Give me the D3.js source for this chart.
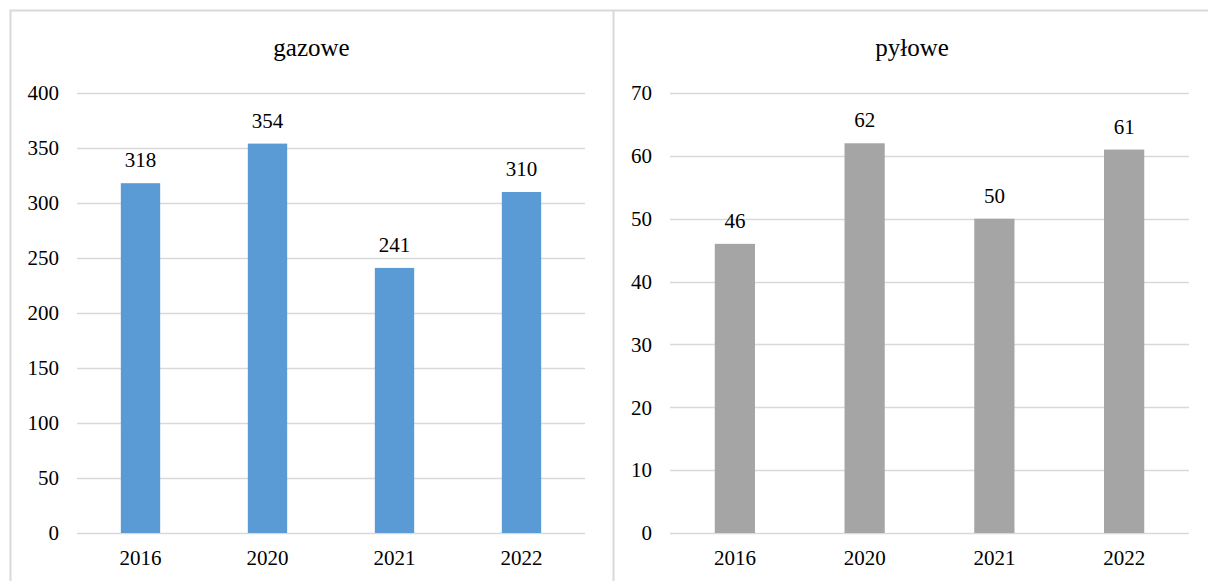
<!DOCTYPE html>
<html>
<head>
<meta charset="utf-8">
<script src="https://cdn.jsdelivr.net/npm/d3@7"></script>
<style>
  body { margin: 0; background: #fff; }
</style>
</head>
<body>
<div id="chart"></div>
<script>
// Data
const years = ["2016", "2020", "2021", "2022"];
const gasValues = [318, 354, 241, 310];
const dustValues = [46, 62, 50, 61];
const gasTicks = [0, 50, 100, 150, 200, 250, 300, 350, 400];
const dustTicks = [0, 10, 20, 30, 40, 50, 60, 70];

const W = 1208, H = 581;
const fontSize = 21;
const titleSize = 25;
const serif = "'Liberation Serif', 'Times New Roman', Times, serif";

const svg = d3.select("#chart")
  .append("svg")
  .attr("width", W)
  .attr("height", H)
  .attr("font-family", serif);

// panel borders (image is cropped: no bottom/right edge)
svg.append("path")
  .attr("d", `M10.5,${H} V10.5 H${W} M613.5,10.5 V${H}`)
  .attr("fill", "none")
  .attr("stroke", "#d9d9d9")
  .attr("stroke-width", 2);

function drawPanel(cfg) {
  const g = svg.append("g");

  const x = d3.scaleBand()
    .domain(years)
    .range([cfg.left, cfg.right]);

  const y = d3.scaleLinear()
    .domain([0, d3.max(cfg.ticks)])
    .range([533, 93]);

  // gridlines
  g.append("g")
    .selectAll("line")
    .data(cfg.ticks)
    .enter()
    .append("line")
    .attr("x1", cfg.left)
    .attr("x2", cfg.right)
    .attr("y1", d => Math.round(y(d)) + 0.5)
    .attr("y2", d => Math.round(y(d)) + 0.5)
    .attr("stroke", "#d9d9d9")
    .attr("stroke-width", 1.5);

  // y labels
  g.append("g")
    .selectAll("text")
    .data(cfg.ticks)
    .enter()
    .append("text")
    .attr("x", cfg.left - 18)
    .attr("y", d => y(d))
    .attr("dy", "0.35em")
    .attr("text-anchor", "end")
    .attr("font-family", serif)
    .style("font-size", fontSize + "px")
    .text(d => d);

  const barW = x.bandwidth() * 0.31;

  // bars
  g.append("g")
    .selectAll("rect")
    .data(cfg.values)
    .enter()
    .append("rect")
    .attr("x", (d, i) => x(years[i]) + x.bandwidth() / 2 - barW / 2)
    .attr("y", d => y(d))
    .attr("width", barW)
    .attr("height", d => y(0) - y(d))
    .attr("fill", cfg.color);

  // value labels
  g.append("g")
    .selectAll("text")
    .data(cfg.values)
    .enter()
    .append("text")
    .attr("x", (d, i) => x(years[i]) + x.bandwidth() / 2)
    .attr("y", d => y(d) - 16)
    .attr("text-anchor", "middle")
    .attr("font-family", serif)
    .style("font-size", fontSize + "px")
    .text(d => d);

  // x labels
  g.append("g")
    .selectAll("text")
    .data(years)
    .enter()
    .append("text")
    .attr("x", d => x(d) + x.bandwidth() / 2)
    .attr("y", 565)
    .attr("text-anchor", "middle")
    .attr("font-family", serif)
    .style("font-size", fontSize + "px")
    .text(d => d);

  // title
  g.append("text")
    .attr("x", cfg.titleX)
    .attr("y", 56)
    .attr("text-anchor", "middle")
    .attr("font-family", serif)
    .style("font-size", titleSize + "px")
    .text(cfg.title);
}

drawPanel({ left: 77, right: 585, ticks: gasTicks, values: gasValues, color: "#5b9bd5", title: "gazowe", titleX: 311.5 });
drawPanel({ left: 670, right: 1189, ticks: dustTicks, values: dustValues, color: "#a5a5a5", title: "pyłowe", titleX: 912 });
</script>
</body>
</html>
